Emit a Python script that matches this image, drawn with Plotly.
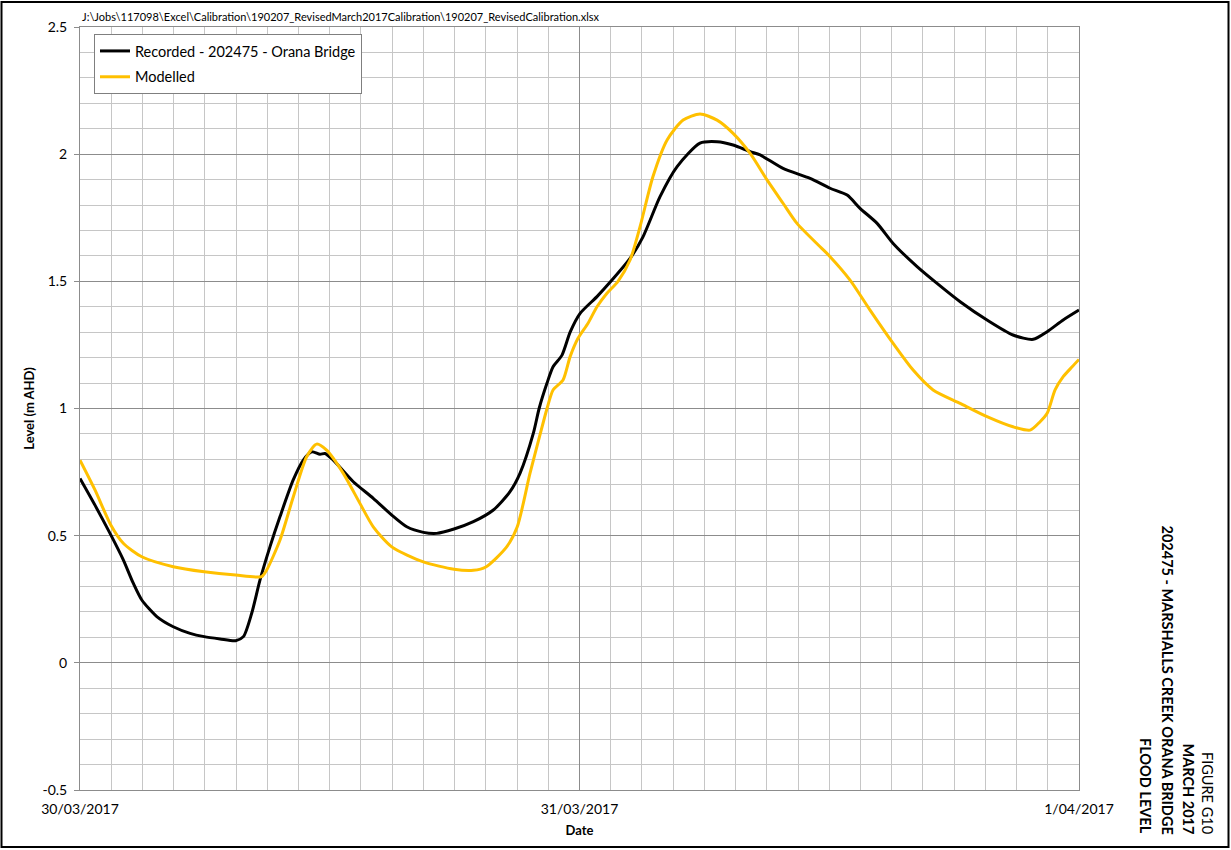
import pandas as pd
import plotly.graph_objects as go

start = pd.Timestamp("2017-03-30 00:00")

# hours after 30/03/2017 00:00 and level (m AHD)
recorded_hours = [0.0, 0.72, 1.48, 2.08, 2.56, 2.97, 3.69, 4.48, 5.29, 5.97, 6.73, 7.48, 7.85,
                  8.25, 8.65, 9.13, 9.61, 10.25, 10.73, 11.13, 11.53, 11.77, 12.17, 13.13,
                  14.09, 14.98, 15.70, 16.50, 17.14, 17.97, 18.90, 19.86, 20.66, 21.14, 21.78,
                  22.06, 22.44, 22.73, 23.16, 23.55, 24.03, 24.84,
                  25.56, 26.43, 27.05, 27.87, 28.69, 29.79, 30.61, 31.38, 32.20, 32.68, 33.78,
                  35.08, 36.04, 36.86, 37.48, 38.30, 39.07, 40.22, 41.18, 42.29, 43.58, 44.83,
                  45.80, 46.47, 47.24, 48.0]
recorded_level = [0.725, 0.62, 0.503, 0.405, 0.313, 0.247, 0.182, 0.142, 0.116, 0.103, 0.094, 0.087, 0.103,
                  0.195, 0.326, 0.457, 0.575, 0.72, 0.797, 0.83, 0.82, 0.823, 0.797, 0.712,
                  0.647, 0.581, 0.535, 0.513, 0.509, 0.526, 0.555, 0.601, 0.673, 0.745, 0.902,
                  1.00, 1.10, 1.164, 1.21, 1.30, 1.374, 1.44,
                  1.505, 1.59, 1.675, 1.833, 1.951, 2.043, 2.049, 2.036, 2.01, 1.997, 1.944,
                  1.905, 1.866, 1.839, 1.787, 1.728, 1.649, 1.558, 1.492, 1.42, 1.348, 1.289,
                  1.272, 1.302, 1.348, 1.387]

modelled_hours = [0.0, 0.72, 1.48, 2.08, 2.97, 4.48, 5.97, 7.48, 8.73, 8.97, 9.61, 10.25, 10.89,
                  11.37, 11.85, 12.65, 13.45, 14.09, 14.98, 16.50, 17.97, 18.90, 19.50, 20.50,
                  21.01, 21.62, 22.10, 22.44, 22.73, 23.21, 23.55, 23.93, 24.41, 24.84, 25.32,
                  25.85, 26.43, 26.91, 27.53, 28.21, 28.98, 29.79, 30.61, 31.38, 32.20, 33.01,
                  33.78, 34.45, 35.56, 36.04, 37.00, 37.96, 39.07, 40.03, 40.99, 42.29, 43.58,
                  44.83, 45.65, 46.13, 46.47, 46.85, 47.24, 47.67, 48.0]
modelled_level = [0.797, 0.68, 0.542, 0.47, 0.417, 0.378, 0.358, 0.345, 0.339, 0.365, 0.483, 0.653, 0.81,
                  0.86, 0.836, 0.745, 0.627, 0.535, 0.456, 0.397, 0.368, 0.364, 0.377, 0.456,
                  0.535, 0.745, 0.896, 1.00, 1.073, 1.112, 1.204, 1.276, 1.335, 1.40, 1.453,
                  1.50, 1.584, 1.715, 1.912, 2.056, 2.134, 2.158, 2.134, 2.082, 2.003, 1.899,
                  1.807, 1.728, 1.636, 1.597, 1.505, 1.387, 1.256, 1.151, 1.073, 1.02, 0.968,
                  0.928, 0.915, 0.948, 0.981, 1.073, 1.125, 1.164, 1.193]

x_tick_vals = ["2017-03-30", "2017-03-31", "2017-04-01"]
x_tick_text = ["30/03/2017", "31/03/2017", "1/04/2017"]
y_tick_vals = [-0.5, 0, 0.5, 1, 1.5, 2, 2.5]
y_tick_text = ["-0.5", "0", "0.5", "1", "1.5", "2", "2.5"]

series_names = ["Recorded - 202475 - Orana Bridge", "Modelled"]
title_lines = ["FIGURE G10", "MARCH 2017", "202475 - MARSHALLS CREEK ORANA BRIDGE", "FLOOD LEVEL"]
file_path = r"J:\Jobs\117098\Excel\Calibration\190207_RevisedMarch2017Calibration\190207_RevisedCalibration.xlsx"

FONT = "Lato"

rec_x = start + pd.to_timedelta(recorded_hours, unit="h")
mod_x = start + pd.to_timedelta(modelled_hours, unit="h")

fig = go.Figure()
fig.add_trace(go.Scatter(x=rec_x, y=recorded_level, mode="lines", name=series_names[0],
                         line=dict(color="#000000", width=3, shape="spline", smoothing=0.7),
                         legendgroup="a"))
fig.add_trace(go.Scatter(x=mod_x, y=modelled_level, mode="lines", name=series_names[1],
                         line=dict(color="#FFC000", width=3, shape="spline", smoothing=0.7),
                         legendgroup="b"))

W, H = 1231, 850
L, R, T, B = 80, 152, 27, 60
pw, ph = W - L - R, H - T - B

def px(xp):
    return (xp - L) / pw

def py(yp):
    return (H - B - yp) / ph

fig.update_layout(
    width=W, height=H,
    margin=dict(l=L, r=R, t=T, b=B, pad=0),
    paper_bgcolor="white", plot_bgcolor="white",
    font=dict(family=FONT, size=14, color="#000000"),
    showlegend=True,
    legend=dict(x=px(94), y=py(34), xanchor="left", yanchor="top",
                bgcolor="white", bordercolor="#7f7f7f", borderwidth=1,
                font=dict(family=FONT, size=14.5), tracegroupgap=4,
                itemwidth=30),
    xaxis=dict(
        type="date",
        range=[start, start + pd.Timedelta(hours=48)],
        tickmode="array", tickvals=x_tick_vals, ticktext=x_tick_text,
        showgrid=True, gridcolor="#8c8c8c", gridwidth=1,
        minor=dict(dtick=5400000, tick0="2017-03-30", showgrid=True,
                   gridcolor="#c6c6c6", gridwidth=1),
        showline=True, linecolor="#8c8c8c", linewidth=1, mirror=True,
        ticks="", ticklabelstandoff=6,
        tickfont=dict(family=FONT, size=14),
        title=dict(text="<b>Date</b>", font=dict(family=FONT, size=13), standoff=10),
        zeroline=False,
    ),
    yaxis=dict(
        range=[-0.5, 2.5],
        tickmode="array", tickvals=y_tick_vals, ticktext=y_tick_text,
        showgrid=True, gridcolor="#8c8c8c", gridwidth=1,
        minor=dict(dtick=0.1, tick0=0, showgrid=True, gridcolor="#c6c6c6", gridwidth=1),
        showline=True, linecolor="#8c8c8c", linewidth=1, mirror=True,
        ticks="outside", ticklen=5, tickcolor="#8c8c8c",
        ticklabelstandoff=4,
        tickfont=dict(family=FONT, size=14),
        title=dict(text="<b>Level (m AHD)</b>", font=dict(family=FONT, size=13), standoff=4),
        zeroline=False,
    ),
)

# file path label
fig.add_annotation(text=file_path, xref="paper", yref="paper", x=0, y=py(17),
                   xanchor="left", yanchor="middle", showarrow=False,
                   font=dict(family=FONT, size=11, color="#000000"))

# right-hand title block (rotated)
cols = [1208, 1188, 1167, 1146]
for i, (t, cx) in enumerate(zip(title_lines, cols)):
    txt = t if i == 0 else "<b>" + t + "</b>"
    fig.add_annotation(text=txt, xref="paper", yref="paper", x=px(cx), y=py(836),
                       xanchor="center", yanchor="bottom", textangle=90, showarrow=False,
                       font=dict(family=FONT, size=14.5, color="#000000"))

# outer frame
fig.add_shape(type="rect", xref="paper", yref="paper",
              x0=px(1.5), x1=px(1228.5), y0=py(847), y1=py(2),
              line=dict(color="#000000", width=2), fillcolor="rgba(0,0,0,0)", layer="above")

fig.write_html("out.html", config={"displayModeBar": False},
               post_script="document.body.style.margin='0';document.body.style.overflow='hidden';")
